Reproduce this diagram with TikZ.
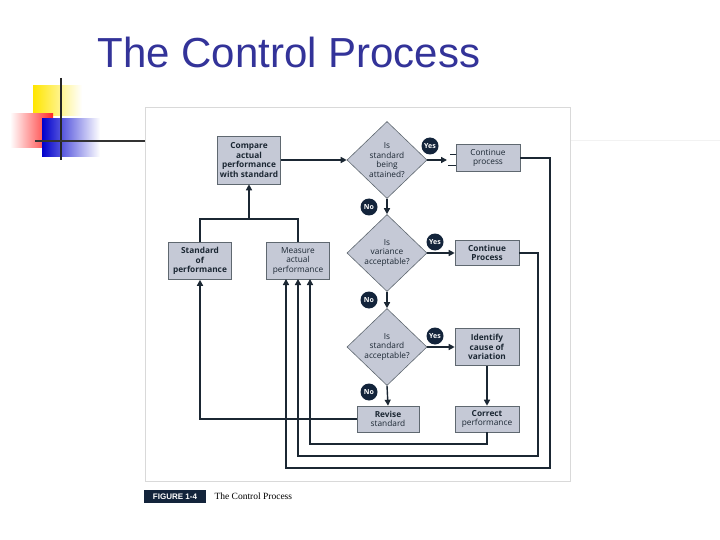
\documentclass[tikz,border=0pt]{standalone}
\usepackage{fontspec}
\setmainfont{Liberation Sans}
\newfontfamily\boxf{Open Sans}
\newfontfamily\capf{Liberation Serif}
\usetikzlibrary{shapes.geometric,arrows.meta}
\definecolor{boxfill}{HTML}{C5C9D6}
\definecolor{ln}{HTML}{1B2733}
\definecolor{navy}{HTML}{13243B}
\definecolor{titleblue}{HTML}{333399}
\begin{document}
\begin{tikzpicture}[x=1pt,y=-1pt,
  box/.style={draw=ln!70,fill=boxfill,line width=0.6pt,inner sep=0pt,align=center,font=\boxf\fontsize{8.3}{9.4}\selectfont,text=ln},
  dia/.style={diamond,draw=ln!70,fill=boxfill,line width=0.6pt,inner sep=0pt,align=center,font=\boxf\fontsize{8.3}{9.4}\selectfont,text=ln,minimum width=80pt,minimum height=77pt},
  lab/.style={circle,fill=navy,text=white,inner sep=0pt,minimum size=17pt,font=\boxf\bfseries\fontsize{7}{8}\selectfont},
  conn/.style={draw=ln,line width=1.4pt},
  arr/.style={conn,-{Triangle[length=6pt,width=6pt]}}]
\useasboundingbox (0,0) rectangle (720,540);
\fill[white] (0,0) rectangle (720,540);
% decoration
\shade[left color=yellow!80!orange,right color=white] (33,86) rectangle (82,116);
\shade[left color=white,right color=red!85] (10,114) rectangle (53,148);
\shade[left color=blue!80!black,right color=white] (42,119) rectangle (100,157);
\draw[line width=2.2pt,black!85] (61,78) -- (61,160);
\draw[line width=2.2pt,black!80] (35,141) -- (145,141);
\draw[line width=1pt,black!5] (570,141) -- (720,141);
\node[anchor=west,text=titleblue,font=\fontsize{42}{46}\selectfont] (title) at (94,52) {The Control Process};
% panel
\draw[black!15,line width=1pt] (145,108) rectangle (570,481);
% nodes
\node[box,minimum width=63pt,minimum height=48pt] (cmp) at (249,160) {\textbf{Compare}\\\textbf{actual}\\\textbf{performance}\\\textbf{with standard}};
\node[dia] (d1) at (387,160) {Is\\standard\\being\\attained?};
\node[dia] (d2) at (387,253) {Is\\variance\\acceptable?};
\node[dia] (d3) at (387,347) {Is\\standard\\acceptable?};
\node[box,minimum width=64pt,minimum height=27pt] (cp1) at (488,158) {Continue\\process};
\node[box,minimum width=64pt,minimum height=25pt] (cp2) at (487,253) {\textbf{Continue}\\\textbf{Process}};
\node[box,minimum width=64pt,minimum height=37pt] (idc) at (487,347) {\textbf{Identify}\\\textbf{cause of}\\\textbf{variation}};
\node[box,minimum width=64pt,minimum height=26pt] (cor) at (487,419) {\textbf{Correct}\\performance};
\node[box,minimum width=62pt,minimum height=26pt] (rev) at (388,419) {\textbf{Revise}\\standard};
\node[box,minimum width=63pt,minimum height=37pt] (std) at (200,261) {\textbf{Standard}\\\textbf{of}\\\textbf{performance}};
\node[box,minimum width=63pt,minimum height=37pt] (mea) at (298,261) {Measure\\actual\\performance};
\node[lab] (y1) at (430,146) {Yes};
\node[lab] (y2) at (435,242) {Yes};
\node[lab] (y3) at (435,336) {Yes};
\node[lab] (n1) at (369,207) {No};
\node[lab] (n2) at (369,300) {No};
\node[lab] (n3) at (369,392) {No};
% connectors
\coordinate (j) at (249,219);
\coordinate (br) at (447,160);
\draw[conn] (std.north) |- (j) -| (mea.north);
\draw[arr] (j) -- (cmp.south);
\draw[arr] (cmp.east) -- (d1.west);
\draw[arr] (d1.east) -- (br);
\draw[ln,line width=1pt] (456,155) -- (450,155) (456,166) -- (448,166);
\draw[arr] (d1.south) -- (d2.north);
\draw[arr] (d2.east) -- (cp2.west);
\draw[arr] (d2.south) -- (d3.north);
\draw[arr] (d3.east) -- (idc.west);
\draw[arr] (d3.south) -- (rev.north);
\draw[arr] (idc.south) -- (cor.north);
\draw[arr] (rev.west) -| (std.south);
\draw[arr] (cor.south) |- (310,444) -- (310,279);
\draw[arr] (cp2.east) -| (538,456) -| (298,279);
\draw[arr] (cp1.east) -| (550,468) -| (286,279);
% caption
\node[fill=navy,text=white,inner sep=1.5pt,minimum width=62pt,minimum height=13pt,font=\bfseries\fontsize{8}{9}\selectfont] (fig) at (175,496.5) {FIGURE 1-4};
\node[anchor=west,font=\capf\fontsize{9.5}{10}\selectfont] (cap) at (211,496.5) {The Control Process};
\end{tikzpicture}
\end{document}
